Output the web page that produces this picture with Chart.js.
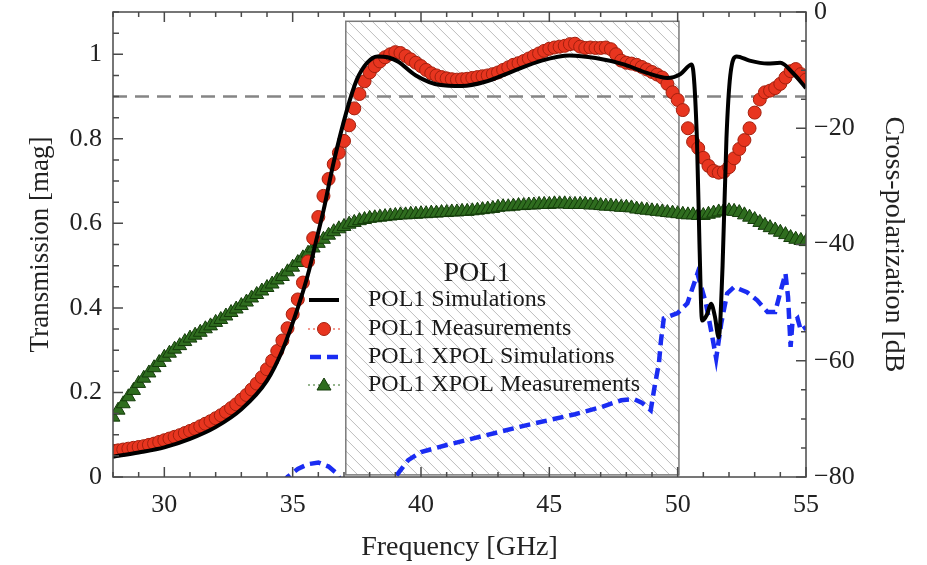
<!DOCTYPE html>
<html>
<head>
<meta charset="utf-8">
<script src="https://cdn.jsdelivr.net/npm/chart.js@4.4.0/dist/chart.umd.min.js"></script>
<style>
  html, body { margin: 0; padding: 0; background: #fff; }
</style>
</head>
<body>
<canvas id="chart" width="927" height="565"></canvas>
<script>
// --- data ---
const xTicks = [30, 35, 40, 45, 50, 55];
const magTicks = [0, 0.2, 0.4, 0.6, 0.8, 1];
const dbTicks = [-80, -60, -40, -20, 0];

const simFreq = [28, 29, 30, 31, 32, 33, 34, 34.6, 35.2, 35.6, 35.9, 36.2, 36.6, 37.1, 37.5, 37.9, 38.3, 38.7,
  39.1, 39.8, 40.7, 41.6, 42.5, 43.5, 44.7, 45.8, 46.8, 47.9, 48.8, 49.6, 50.1, 50.55, 50.75, 50.85, 50.95,
  51.15, 51.3, 51.45, 51.6, 51.75, 51.9, 52.05, 52.3, 52.8, 53.5, 54.0, 54.5, 55];
const simMag = [0.048, 0.058, 0.070, 0.090, 0.118, 0.160, 0.228, 0.30, 0.40, 0.48, 0.555, 0.63, 0.745, 0.865, 0.94, 0.98, 0.995, 0.993,
  0.983, 0.95, 0.928, 0.925, 0.935, 0.958, 0.985, 0.997, 0.991, 0.976, 0.956, 0.944, 0.953, 0.976, 0.80, 0.55, 0.37,
  0.385, 0.41, 0.38, 0.33, 0.50, 0.80, 0.95, 0.995, 0.985, 0.978, 0.98, 0.955, 0.92];

const measFreq = [28.0, 28.2, 28.4, 28.6, 28.8, 29.0, 29.2, 29.4, 29.6, 29.8,
  30.0, 30.2, 30.4, 30.6, 30.8, 31.0, 31.2, 31.4, 31.6, 31.8,
  32.0, 32.2, 32.4, 32.6, 32.8, 33.0, 33.2, 33.4, 33.6, 33.8,
  34.0, 34.2, 34.4, 34.6, 34.8, 35.0, 35.2, 35.4, 35.6, 35.8,
  36.0, 36.2, 36.4, 36.6, 36.8, 37.0, 37.2, 37.4, 37.6, 37.8,
  38.0, 38.2, 38.4, 38.6, 38.8, 39.0, 39.2, 39.4, 39.6, 39.8,
  40.0, 40.2, 40.4, 40.6, 40.8, 41.0, 41.2, 41.4, 41.6, 41.8,
  42.0, 42.2, 42.4, 42.6, 42.8, 43.0, 43.2, 43.4, 43.6, 43.8,
  44.0, 44.2, 44.4, 44.6, 44.8, 45.0, 45.2, 45.4, 45.6, 45.8,
  46.0, 46.2, 46.4, 46.6, 46.8, 47.0, 47.2, 47.4, 47.6, 47.8,
  48.0, 48.2, 48.4, 48.6, 48.8, 49.0, 49.2, 49.4, 49.6, 49.8,
  50.0, 50.2, 50.4, 50.6, 50.8, 51.0, 51.2, 51.4, 51.6, 51.8,
  52.0, 52.2, 52.4, 52.6, 52.8, 53.0, 53.2, 53.4, 53.6, 53.8,
  54.0, 54.2, 54.4, 54.6, 54.8, 55.0];
const measMag = [0.062, 0.063, 0.065, 0.067, 0.069, 0.071, 0.073, 0.076, 0.079, 0.083,
  0.087, 0.091, 0.095, 0.099, 0.104, 0.109, 0.114, 0.120, 0.126, 0.132,
  0.139, 0.146, 0.154, 0.163, 0.172, 0.183, 0.194, 0.207, 0.221, 0.236,
  0.255, 0.275, 0.298, 0.323, 0.352, 0.385, 0.420, 0.460, 0.510, 0.565,
  0.615, 0.665, 0.705, 0.740, 0.767, 0.795, 0.832, 0.872, 0.906, 0.936,
  0.957, 0.972, 0.983, 0.993, 1.000, 1.005, 1.003, 0.996, 0.988, 0.980,
  0.972, 0.963, 0.955, 0.950, 0.946, 0.943, 0.941, 0.940, 0.941, 0.942,
  0.944, 0.946, 0.948, 0.950, 0.953, 0.957, 0.963, 0.969, 0.975, 0.979,
  0.984, 0.990, 0.996, 1.002, 1.008, 1.013, 1.016, 1.018, 1.020, 1.024,
  1.025, 1.018, 1.015, 1.016, 1.015, 1.015, 1.016, 1.012, 1.000, 0.985,
  0.980, 0.978, 0.975, 0.970, 0.964, 0.958, 0.952, 0.945, 0.930, 0.910,
  0.892, 0.868, 0.825, 0.793, 0.778, 0.755, 0.736, 0.724, 0.720, 0.722,
  0.733, 0.754, 0.776, 0.797, 0.825, 0.862, 0.893, 0.910, 0.914, 0.920,
  0.930, 0.945, 0.960, 0.965, 0.953, 0.940];

const xsimFreq = [34.6, 34.8, 35.2, 35.6, 36.0, 36.4, 36.7, 37.0, 37.5, 38.0, 38.5, 39.0, 39.5, 40.0, 41, 42, 43, 44, 45,
  46, 47, 47.8, 48.3, 48.6, 48.95, 49.1, 49.27, 49.35, 49.46, 50.0, 50.38, 50.77, 51.1, 51.35, 51.5, 51.7,
  51.93, 52.2, 52.7, 53.1, 53.5, 53.8, 54.0, 54.2, 54.3, 54.4, 54.47, 54.67, 54.8, 55.0];
const xsimDb = [-81, -80, -78.6, -77.8, -77.5, -78.2, -79.3, -81.5, -84, -85, -83, -80, -77.1, -75.7, -74.5, -73.4, -72.3, -71.2, -70.2,
  -69.2, -68.0, -66.8, -66.6, -67.2, -68.5, -64.5, -60.4, -56.5, -52.7, -51.8, -50.1, -45.0, -50.1, -55.9, -59.6, -53.5,
  -48.4, -47.3, -48.2, -49.6, -51.6, -51.6, -48.2, -45.0, -49.0, -57.6, -53.5, -52.7, -54.8, -54.2];

const xmeasDb = [-69.7, -68.5, -67.4, -66.2, -65.1, -63.9, -63.0, -62.1, -61.2, -60.3,
  -59.4, -58.7, -58.0, -57.4, -56.7, -56.1, -55.6, -55.1, -54.5, -54.0,
  -53.4, -52.9, -52.3, -51.7, -51.1, -50.5, -49.9, -49.2, -48.6, -48.0,
  -47.4, -46.8, -46.1, -45.5, -44.7, -43.9, -43.1, -42.3, -41.5, -40.6,
  -39.8, -39.1, -38.4, -37.8, -37.3, -36.9, -36.5, -36.2, -35.9, -35.7,
  -35.5, -35.4, -35.3, -35.2, -35.1, -35.0, -34.9, -34.9, -34.8, -34.8,
  -34.7, -34.7, -34.6, -34.6, -34.5, -34.5, -34.4, -34.4, -34.3, -34.3,
  -34.2, -34.1, -34.0, -33.9, -33.8, -33.6, -33.5, -33.5, -33.4, -33.3,
  -33.3, -33.2, -33.2, -33.1, -33.1, -33.1, -33.0, -33.0, -33.0, -33.1,
  -33.1, -33.1, -33.1, -33.2, -33.2, -33.3, -33.4, -33.4, -33.5, -33.6,
  -33.6, -33.7, -33.9, -34.0, -34.1, -34.2, -34.3, -34.4, -34.5, -34.6,
  -34.7, -34.8, -34.9, -34.9, -35.0, -35.0, -34.8, -34.6, -34.4, -34.2,
  -34.2, -34.3, -34.5, -34.9, -35.3, -35.7, -36.2, -36.7, -37.1, -37.5,
  -37.9, -38.3, -38.8, -39.1, -39.3, -39.5];

// shaded passband (GHz) and its height on the magnitude axis, plus the 0.9 spec line
const passband = [37.07, 50.05];
const passbandMag = [0.005, 1.078];
const specLevel = 0.9;

const SERIF = "'Liberation Serif', 'DejaVu Serif', serif";
const pts = (xs, ys) => xs.map((x, i) => ({ x: x, y: ys[i] }));

const styles = {
  sim: { color: '#000000', width: 4 },
  meas: { fill: '#e8351f', edge: '#a3200e' },
  xsim: { color: '#1a2cf2', width: 4.5, dash: [11, 6] },
  xmeas: { fill: '#2f6d1f', edge: '#143c0a' }
};

// hatched band, spec line, frame with inner ticks, legend
const framePlugin = {
  id: 'frame',
  beforeDatasetsDraw(chart) {
    const { ctx, chartArea: a, scales: { x, y } } = chart;
    const x0 = x.getPixelForValue(passband[0]), x1 = x.getPixelForValue(passband[1]);
    const yt = y.getPixelForValue(passbandMag[1]), yb = y.getPixelForValue(passbandMag[0]);
    const h = yb - yt;
    ctx.save();
    ctx.beginPath();
    ctx.rect(x0, yt, x1 - x0, h);
    ctx.clip();
    ctx.strokeStyle = '#bdbdbd';
    ctx.lineWidth = 1;
    ctx.beginPath();
    for (let k = -h; k < x1 - x0; k += 12) {
      ctx.moveTo(x0 + k, yt);
      ctx.lineTo(x0 + k + h, yb);
    }
    ctx.stroke();
    ctx.restore();
    ctx.save();
    ctx.strokeStyle = '#7a7a7a';
    ctx.lineWidth = 1.5;
    ctx.strokeRect(x0, yt, x1 - x0, h);
    // 0.9 dashed line
    const ys = y.getPixelForValue(specLevel);
    ctx.strokeStyle = '#858585';
    ctx.lineWidth = 2.5;
    ctx.setLineDash([14, 8]);
    ctx.beginPath();
    ctx.moveTo(a.left, ys);
    ctx.lineTo(a.right, ys);
    ctx.stroke();
    ctx.restore();
  },
  afterDatasetsDraw(chart) {
    const { ctx, chartArea: a, scales: { x, y, y1 } } = chart;
    ctx.save();
    ctx.strokeStyle = '#4a4a4a';
    ctx.lineWidth = 1.5;
    ctx.beginPath();
    // frequency ticks, top and bottom, every 1 GHz
    for (let f = 28; f <= 55; f++) {
      const px = x.getPixelForValue(f);
      const len = f % 5 === 0 ? 10 : 5;
      ctx.moveTo(px, a.bottom); ctx.lineTo(px, a.bottom - len);
      ctx.moveTo(px, a.top); ctx.lineTo(px, a.top + len);
    }
    // magnitude ticks every 0.05
    for (let i = 0; i <= 22; i++) {
      const py = y.getPixelForValue(i * 0.05);
      const len = i % 4 === 0 ? 10 : 6;
      ctx.moveTo(a.left, py); ctx.lineTo(a.left + len, py);
    }
    // dB ticks every 5 dB
    for (let d = -80; d <= 0; d += 5) {
      const py = y1.getPixelForValue(d);
      const len = d % 20 === 0 ? 10 : 5;
      ctx.moveTo(a.right, py); ctx.lineTo(a.right - len, py);
    }
    ctx.stroke();
    ctx.strokeRect(a.left, a.top, a.right - a.left, a.bottom - a.top);
    ctx.restore();
  },
  afterDraw(chart) {
    const ctx = chart.ctx;
    const sets = chart.data.datasets;
    ctx.save();
    ctx.fillStyle = '#1a1a1a';
    ctx.textBaseline = 'middle';
    ctx.font = '28px ' + SERIF;
    ctx.textAlign = 'center';
    ctx.fillText('POL1', 477, 274);
    ctx.font = '24px ' + SERIF;
    ctx.textAlign = 'left';
    const rows = [300, 329, 357, 385];
    const mx = 324;
    sets.forEach((ds, i) => {
      const ry = rows[i];
      ctx.fillStyle = '#1a1a1a';
      ctx.fillText(ds.label, 368, ry);
      ctx.save();
      if (i === 0) {
        ctx.strokeStyle = styles.sim.color; ctx.lineWidth = 4;
        ctx.beginPath(); ctx.moveTo(309, ry); ctx.lineTo(339, ry); ctx.stroke();
      } else if (i === 2) {
        ctx.strokeStyle = styles.xsim.color; ctx.lineWidth = 4.5;
        ctx.beginPath(); ctx.moveTo(310, ry); ctx.lineTo(321, ry); ctx.moveTo(327, ry); ctx.lineTo(338, ry); ctx.stroke();
      } else {
        const st = i === 1 ? styles.meas : styles.xmeas;
        ctx.strokeStyle = st.fill; ctx.lineWidth = 1.2; ctx.setLineDash([2, 3]);
        ctx.beginPath(); ctx.moveTo(308, ry); ctx.lineTo(341, ry); ctx.stroke();
        ctx.setLineDash([]);
        ctx.fillStyle = st.fill; ctx.strokeStyle = st.edge; ctx.lineWidth = 1;
        ctx.beginPath();
        if (i === 1) {
          ctx.arc(mx, ry, 6.5, 0, Math.PI * 2);
        } else {
          ctx.moveTo(mx, ry - 7); ctx.lineTo(mx + 7, ry + 5); ctx.lineTo(mx - 7, ry + 5); ctx.closePath();
        }
        ctx.fill(); ctx.stroke();
      }
      ctx.restore();
    });
    ctx.restore();
  }
};

const tickFont = { family: SERIF, size: 26 };
const titleFont = { family: SERIF, size: 28 };
const noOverflow = s => { s.paddingTop = 0; s.paddingBottom = 0; s.paddingLeft = 0; s.paddingRight = 0; };

new Chart(document.getElementById('chart'), {
  type: 'line',
  data: {
    datasets: [
      {
        label: 'POL1 Simulations',
        data: pts(simFreq, simMag),
        yAxisID: 'y',
        borderColor: styles.sim.color,
        borderWidth: styles.sim.width,
        pointRadius: 0,
        cubicInterpolationMode: 'monotone'
      },
      {
        label: 'POL1 Measurements',
        data: pts(measFreq, measMag),
        yAxisID: 'y',
        showLine: false,
        pointRadius: 6.5,
        pointBackgroundColor: styles.meas.fill,
        pointBorderColor: styles.meas.edge,
        pointBorderWidth: 1
      },
      {
        label: 'POL1 XPOL Simulations',
        data: pts(xsimFreq, xsimDb),
        yAxisID: 'y1',
        borderColor: styles.xsim.color,
        borderWidth: styles.xsim.width,
        borderDash: styles.xsim.dash,
        pointRadius: 0,
        tension: 0
      },
      {
        label: 'POL1 XPOL Measurements',
        data: pts(measFreq, xmeasDb),
        yAxisID: 'y1',
        showLine: false,
        pointStyle: 'triangle',
        pointRadius: 8,
        pointBackgroundColor: styles.xmeas.fill,
        pointBorderColor: styles.xmeas.edge,
        pointBorderWidth: 1
      }
    ]
  },
  options: {
    responsive: false,
    animation: false,
    events: [],
    layout: { padding: { top: 12, left: 0, right: 0, bottom: 0 } },
    plugins: { legend: { display: false }, tooltip: { enabled: false } },
    scales: {
      x: {
        type: 'linear',
        min: 28,
        max: 55,
        afterBuildTicks: s => { s.ticks = xTicks.map(v => ({ value: v })); },
        afterFit: s => { s.height = 88; noOverflow(s); },
        grid: { display: false, drawTicks: false },
        border: { display: false },
        ticks: { font: tickFont, color: '#222', padding: 13, maxRotation: 0, autoSkip: false },
        title: { display: true, text: 'Frequency [GHz]', font: titleFont, color: '#222', padding: { top: 0, bottom: 1 } }
      },
      y: {
        position: 'left',
        min: 0,
        max: 1.1,
        afterBuildTicks: s => { s.ticks = magTicks.map(v => ({ value: v })); },
        afterFit: s => { s.width = 113; noOverflow(s); },
        grid: { display: false, drawTicks: false },
        border: { display: false },
        ticks: { font: tickFont, color: '#222', padding: 11, callback: v => String(+v.toFixed(1)) },
        title: { display: true, text: 'Transmission [mag]', font: { family: SERIF, size: 27 }, color: '#222', padding: { top: 25, bottom: 0 } }
      },
      y1: {
        position: 'right',
        min: -80,
        max: 0,
        afterBuildTicks: s => { s.ticks = dbTicks.map(v => ({ value: v })); },
        afterFit: s => { s.width = 121; noOverflow(s); },
        grid: { display: false, drawTicks: false },
        border: { display: false },
        ticks: { font: tickFont, color: '#222', padding: 8, callback: v => (v < 0 ? '\u2212' + Math.abs(v) : String(v)) },
        title: { display: true, text: 'Cross-polarization [dB', font: titleFont, color: '#222', padding: { top: 17, bottom: 0 } }
      }
    }
  },
  plugins: [framePlugin]
});
</script>
</body>
</html>
